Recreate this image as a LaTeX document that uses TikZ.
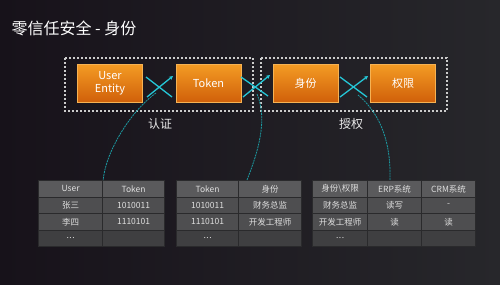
\documentclass[tikz,border=0pt]{standalone}
\usepackage{fontspec}
\setmainfont{Noto Sans CJK SC}
\usetikzlibrary{arrows.meta}
\definecolor{bgL}{HTML}{17121A}
\definecolor{bgR}{HTML}{27272B}
\definecolor{orT}{HTML}{F49C24}
\definecolor{orB}{HTML}{D0600A}
\definecolor{orE}{HTML}{F6B253}
\definecolor{xcol}{HTML}{25C6D6}
\definecolor{ccol}{HTML}{1C9AA2}
\definecolor{hcell}{HTML}{5A5A5C}
\definecolor{bcell}{HTML}{4E4E50}
\definecolor{lcell}{HTML}{3F3F41}
\definecolor{cbord}{HTML}{2A2A2C}
\definecolor{ctext}{HTML}{DEDEDE}
\newcommand\tdots{.\kern0.5pt.\kern0.5pt.}
\tikzset{
  obox/.style={draw=orE, line width=0.6pt, top color=orT, bottom color=orB,
    minimum width=65pt, minimum height=38pt, inner sep=0pt, text=white,
    align=center, font=\fontsize{11}{13}\selectfont},
  dbox/.style={draw=white!80!black, line width=1.1pt, dash pattern=on 2pt off 2pt},
  xline/.style={draw=xcol, line width=1.3pt},
  xarrow/.style={xline, -{Stealth[length=4pt,width=4pt]}},
  curve/.style={draw=ccol, line width=0.8pt, dash pattern=on 2pt off 0.8pt},
  lbl/.style={text=white!92!black, font=\fontsize{12}{12}\selectfont},
  cell/.style={draw=cbord, line width=1.2pt, inner sep=0pt, text=ctext,
    font=\fontsize{8.5}{9}\selectfont, anchor=north west}
}
\begin{document}
\begin{tikzpicture}[x=1pt,y=-1pt]
\shade[left color=bgL, right color=bgR] (0,0) rectangle (500,284);
\useasboundingbox (0,0) rectangle (500,284);
% title
\node[anchor=west, text=white, font=\fontsize{16}{16}\selectfont] (title) at (8,28) {零信任安全 - 身份};
% dashed groups
\draw[dbox] (65,58) rectangle (253,111);
\draw[dbox] (261,58) rectangle (447,111);
% boxes
\node[obox] (ue) at (110,83) {User\\Entity};
\node[obox] (tok) at (208.5,83) {Token};
\node[obox] (sf) at (305.5,83) {身份};
\node[obox] (qx) at (403,83) {权限};
% labels
\node[lbl] (rz) at (160,124) {认证};
\node[lbl] (sq) at (351,124) {授权};
% crosses
\coordinate (x1a) at (146,77); \coordinate (x1b) at (172,97);
\coordinate (x1c) at (147,97); \coordinate (x1d) at (173,76);
\coordinate (x2a) at (241,77); \coordinate (x2b) at (268,96);
\coordinate (x2c) at (243,97); \coordinate (x2d) at (270,75);
\coordinate (x3a) at (340,77); \coordinate (x3b) at (367,97);
\coordinate (x3c) at (340,97); \coordinate (x3d) at (368,76);
\draw[xline] (x1a) -- (x1b); \draw[xarrow] (x1c) -- (x1d);
\draw[xline] (x2a) -- (x2b); \draw[xarrow] (x2c) -- (x2d);
\draw[xline] (x3a) -- (x3b); \draw[xarrow] (x3c) -- (x3d);
% tables
\def\rh{16.5}
% table 1
\foreach \r/\ta/\tb/\fc in {0/User/Token/hcell, 1/张三/1010011/bcell, 2/李四/1110101/bcell, 3/\tdots/{}/lcell}{
  \node[cell, fill=\fc, minimum width=64pt, minimum height=\rh pt] (ta\r) at (38,180+\r*\rh) {\ta};
  \node[cell, fill=\fc, minimum width=62pt, minimum height=\rh pt] (tb\r) at (102,180+\r*\rh) {\tb};
}
% table 2
\foreach \r/\ta/\tb/\fc in {0/Token/身份/hcell, 1/1010011/财务总监/bcell, 2/1110101/开发工程师/bcell, 3/\tdots/{}/lcell}{
  \node[cell, fill=\fc, minimum width=62pt, minimum height=\rh pt] (ua\r) at (176,180+\r*\rh) {\ta};
  \node[cell, fill=\fc, minimum width=63pt, minimum height=\rh pt] (ub\r) at (238,180+\r*\rh) {\tb};
}
% table 3
\foreach \r/\ta/\tb/\tc/\fc in {0/身份\textbackslash 权限/ERP系统/CRM系统/hcell, 1/财务总监/读写/-/bcell, 2/开发工程师/读/读/bcell, 3/\tdots/{}/{}/lcell}{
  \node[cell, fill=\fc, minimum width=55pt, minimum height=\rh pt] (va\r) at (312,180+\r*\rh) {\ta};
  \node[cell, fill=\fc, minimum width=54pt, minimum height=\rh pt] (vb\r) at (367,180+\r*\rh) {\tb};
  \node[cell, fill=\fc, minimum width=54pt, minimum height=\rh pt] (vc\r) at (421,180+\r*\rh) {\tc};
}
% curves
\coordinate (c1s) at (156,93); \coordinate (c2s) at (257,94); \coordinate (c3s) at (358,95);
\draw[curve] (c1s) .. controls (132,110) and (106,150) .. (ta0.north east);
\draw[curve] (c2s) .. controls (268,120) and (258,152) .. ([xshift=9pt]ub0.north west);
\draw[curve] (c3s) .. controls (382,115) and (391,145) .. ([xshift=23pt]vb0.north west);
\end{tikzpicture}
\end{document}
